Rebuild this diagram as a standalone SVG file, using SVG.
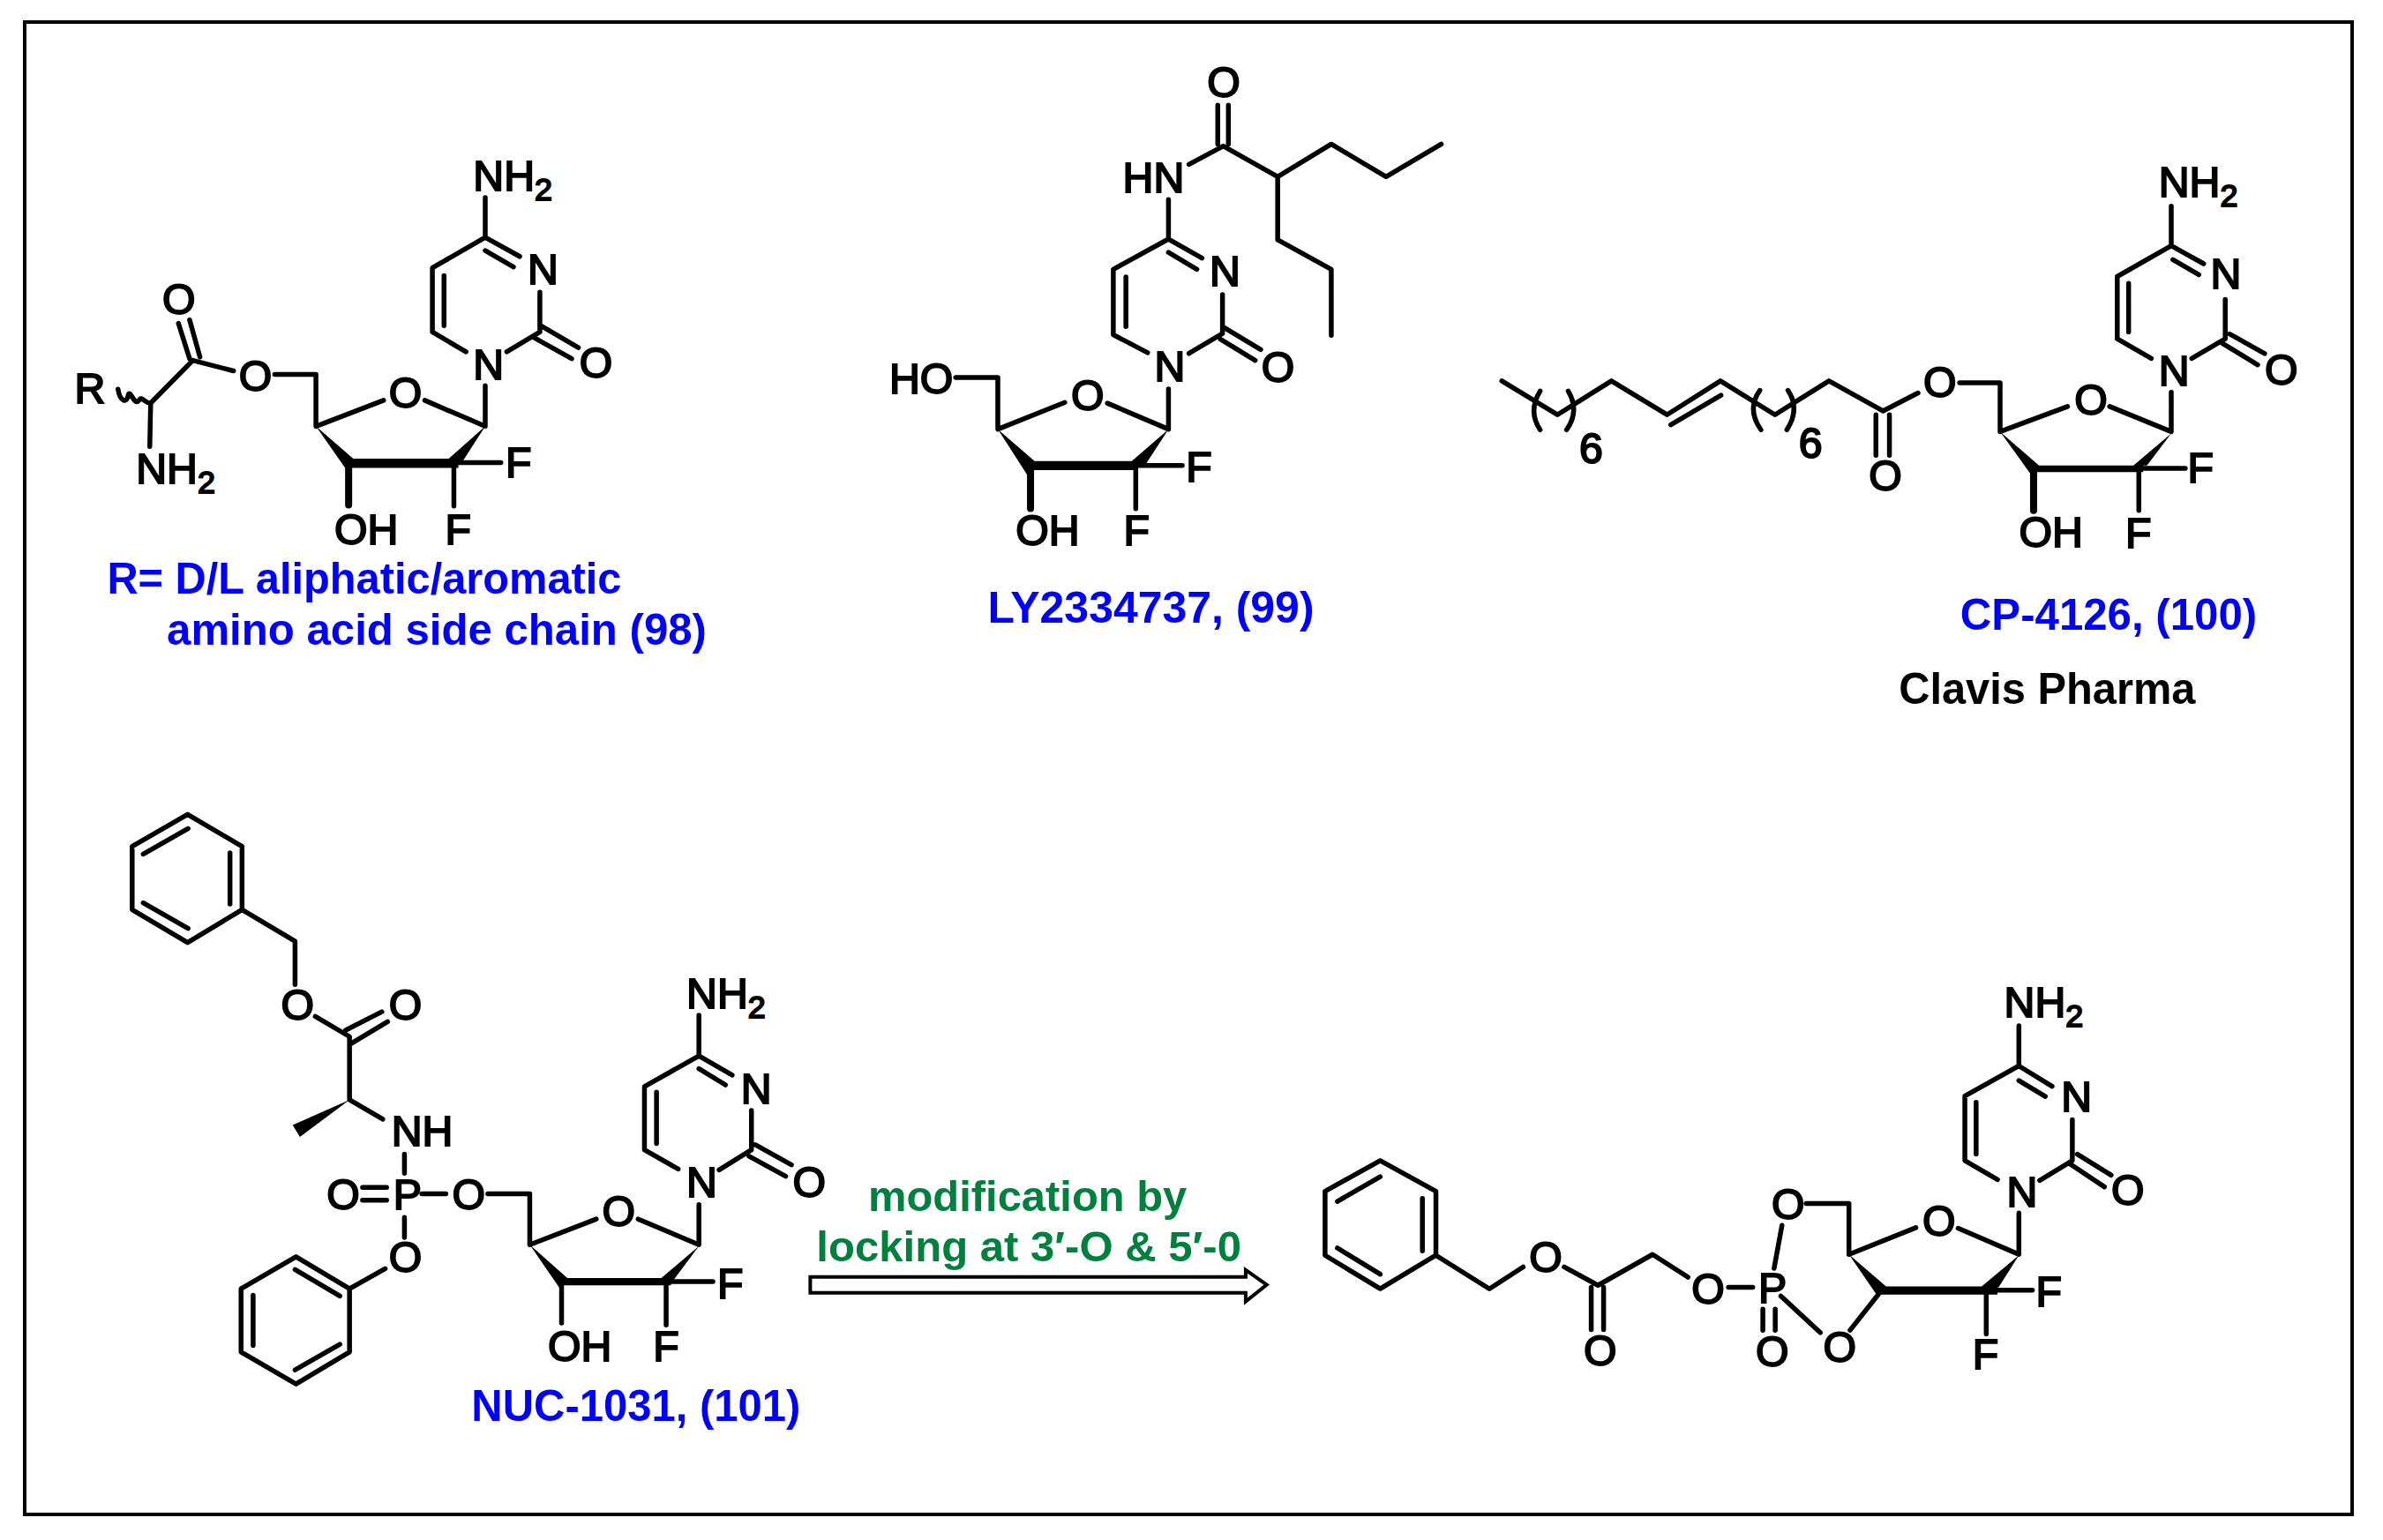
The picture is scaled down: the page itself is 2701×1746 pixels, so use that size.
<svg xmlns="http://www.w3.org/2000/svg" width="2701" height="1746" viewBox="0 0 2701 1746">
<style>
.b{fill:none;stroke:#000;stroke-width:5.5;stroke-linecap:round;stroke-linejoin:round;vector-effect:non-scaling-stroke}
.t{fill:none;stroke:#000;stroke-width:8;stroke-linecap:round;vector-effect:non-scaling-stroke}
.w{fill:#000;stroke:none}
text{font-family:"Liberation Sans",Arial,sans-serif}
.a{font-size:48.5px;fill:#000;stroke:#000;stroke-width:2}
.s{font-size:36px}
.l{font-size:50px;font-weight:bold;fill:#0000ff}
.k{font-size:50px;font-weight:bold;fill:#000}
.g{font-size:49px;font-weight:bold;fill:#00803f}
</style>
<rect x="28" y="25" width="2638" height="1692" fill="#fff" stroke="#000" stroke-width="4"/>
<g id="diagram" transform="scale(.995)">
<g id="mol-98">
<g transform="translate(40,152) scale(.5102,.395)">
<path class="b" d="M1005,185L1005,300L1082,355M1005,338L1068,385M1005,300L887,388L887,573L962,630M913,410L913,555M1053,630L1127,573L1127,458M1127,553L1213,618M1115,590L1198,650M1005,728L1005,845L870,770M778,770L627,845L627,695L535,695M352,655L443,685M320,548L345,650M345,538L368,645M352,655L258,778L256,903M185,738C190,775 205,780 208,755C212,735 222,790 232,770C238,755 245,780 258,778M935,950L1040,950M935,950L935,1075"/>
<path class="t" d="M700,965L700,1072"/>
<path class="w" d="M627,845L712,940L695,970ZM1005,845L955,945L922,940ZM695,938H945V965H695Z"/>
</g>
<text class="a" x="539" y="217">NH<tspan class="s" dy="11">2</tspan></text>
<text class="a" x="601" y="324">N</text>
<text class="a" x="539" y="432">N</text>
<text class="a" x="660" y="430">O</text>
<text class="a" x="443" y="464">O</text>
<text class="a" x="272" y="445">O</text>
<text class="a" x="185" y="358">O</text>
<text class="a" x="85" y="459">R</text>
<text class="a" x="155" y="551">NH<tspan class="s" dy="11">2</tspan></text>
<text class="a" x="381" y="620">OH</text>
<text class="a" x="576" y="544">F</text>
<text class="a" x="507" y="620">F</text>
<text class="l" x="122" y="676" textLength="586" lengthAdjust="spacingAndGlyphs">R= D/L aliphatic/aromatic</text>
<text class="l" x="190" y="735" textLength="615" lengthAdjust="spacingAndGlyphs">amino acid side chain (98)</text>
</g>

<g id="mol-99">
<g transform="translate(984,40) scale(.449,.436)">
<path class="b" d="M898,183L898,285M925,183L925,285M825,338L912,290L1050,370L1186,285L1325,370L1465,285M1050,370L1050,535L1186,612L1186,785M773,430L773,533L858,583M773,568L845,612M773,533L633,612L633,783L720,830M665,632L665,762M825,832L910,780L910,678M915,765L1007,822M905,795L993,850M773,925L773,1030L618,962M510,960L340,1030L340,895L233,895M690,1125L808,1125M690,1125L690,1238"/>
<path class="t" d="M423,1140L423,1237"/>
<path class="w" d="M340,1030L435,1115L415,1150ZM773,1030L710,1130L678,1115ZM420,1113H695V1137H420Z"/>
</g>
<text class="a" x="1375" y="111">O</text>
<text class="a" x="1279" y="219">HN</text>
<text class="a" x="1378" y="326">N</text>
<text class="a" x="1315" y="434">N</text>
<text class="a" x="1437" y="435">O</text>
<text class="a" x="1220" y="467">O</text>
<text class="a" x="1013" y="448">HO</text>
<text class="a" x="1351" y="549">F</text>
<text class="a" x="1280" y="621">F</text>
<text class="a" x="1157" y="621">OH</text>
<text class="l" x="1125" y="710" textLength="372" lengthAdjust="spacingAndGlyphs">LY2334737, (99)</text>
</g>

<g id="mol-100">
<g transform="translate(1688,158) scale(.615,.428)">
<path class="b" d="M37,645L140,735L240,645L343,735L442,645L543,735L643,645L743,725L808,677M350,762L443,683M108,672Q85,725 108,775M160,672Q182,725 157,775M515,670Q490,720 517,775M567,670Q590,720 565,775M730,735L730,843M755,735L755,843M885,650L960,650L960,780L1085,713M1163,713L1277,780L1277,675M1217,878L1303,878M1217,878L1217,990M1277,180L1277,285L1337,333M1280,322L1328,362M1277,285L1177,367L1177,533L1240,585M1198,385L1198,515M1315,585L1377,533L1377,428M1385,520L1450,572M1372,545L1437,602"/>
<path class="t" d="M1022,888L1022,990"/>
<path class="w" d="M960,780L1032,870L1020,900ZM1277,785L1232,870L1207,870ZM1025,870H1225V888H1025Z"/>
</g>
<text class="a" x="2459" y="224">NH<tspan class="s" dy="11">2</tspan></text>
<text class="a" x="2518" y="329">N</text>
<text class="a" x="2459" y="439">N</text>
<text class="a" x="2580" y="438">O</text>
<text class="a" x="2363" y="472">O</text>
<text class="a" x="2191" y="452">O</text>
<text class="a" x="2129" y="559">O</text>
<text class="a" x="2492" y="550">F</text>
<text class="a" x="2421" y="624">F</text>
<text class="a" x="2300" y="623">OH</text>
<text class="a" x="1799" y="528">6</text>
<text class="a" x="2049" y="522">6</text>
<text class="l" x="2233" y="718" textLength="338" lengthAdjust="spacingAndGlyphs">CP-4126, (100)</text>
<text class="k" x="2163" y="802" textLength="338" lengthAdjust="spacingAndGlyphs">Clavis Pharma</text>
</g>

<g id="mol-101">
<g transform="translate(122,906) scale(.549,.487)">
<path class="b" d="M167,45L280,120L280,268L167,345L52,268L52,120ZM75,138L168,78M255,135L255,255M75,252L168,312M280,268L390,342L390,443M432,518L503,565L503,713L572,758M495,550L570,507M508,580L582,530M617,840L617,885M530,918L580,918M530,948L580,948M653,933L703,933M790,933L877,933L877,1052L1015,992M617,988L617,1035M577,1108L503,1155M503,1155L392,1080L278,1155L278,1303L392,1378L503,1303ZM483,1172L390,1110M303,1170L303,1288M390,1345L483,1285M1102,992L1228,1052L1228,958M943,1145L943,1235M1160,1138L1257,1138M1160,1138L1160,1240M1228,515L1228,610L1297,655M1228,640L1283,678M1228,610L1115,682L1115,830L1185,875M1140,695L1140,815M1270,877L1337,830L1337,738M1345,818L1420,865M1332,845L1408,892"/>
<path class="w" d="M503,713L385,772L400,800ZM877,1052L955,1130L940,1155ZM1228,1055L1175,1135L1150,1130ZM945,1130H1170V1147H945Z"/>
</g>
<text class="a" x="320" y="1162">O</text>
<text class="a" x="443" y="1162">O</text>
<text class="a" x="446" y="1306">NH</text>
<text class="a" x="372" y="1378">O</text>
<text class="a" x="448" y="1378">P</text>
<text class="a" x="515" y="1378">O</text>
<text class="a" x="443" y="1449">O</text>
<text class="a" x="686" y="1397">O</text>
<text class="a" x="782" y="1149">NH<tspan class="s" dy="11">2</tspan></text>
<text class="a" x="844" y="1257">N</text>
<text class="a" x="782" y="1364">N</text>
<text class="a" x="903" y="1364">O</text>
<text class="a" x="817" y="1479">F</text>
<text class="a" x="744" y="1551">F</text>
<text class="a" x="624" y="1551">OH</text>
<text class="l" x="537" y="1619" textLength="375" lengthAdjust="spacingAndGlyphs">NUC-1031, (101)</text>
</g>

<g id="connectors">
<path d="M923,1455H1419V1447L1443,1464L1419,1483V1473H923Z" fill="#fff" stroke="#000" stroke-width="4"/>
</g>
<g id="arrow-label">
<text class="g" x="989" y="1380" textLength="363" lengthAdjust="spacingAndGlyphs">modification by</text>
<text class="g" x="930" y="1437" textLength="484" lengthAdjust="spacingAndGlyphs">locking at 3′-O &amp; 5′-0</text>
</g>

<g id="mol-locked">
<g transform="translate(1487,1110) scale(.641,.332)">
<path class="b" d="M133,640L232,745L232,965L133,1080L35,965L35,745ZM57,780L133,695M208,770L208,950M57,940L133,1030M232,965L327,1080L387,1005M460,1005L520,1068L617,962L680,1040M508,1075L508,1220M530,1075L530,1220M752,1075L795,1075M833,1010L847,862M890,787L966,787L966,962L1085,870M1160,872L1268,962L1268,820M1210,1085L1292,1085M1210,1085L1210,1235M1018,1100L968,1222M845,1105L915,1230M813,1150L813,1222M835,1150L835,1222M1268,177L1268,315L1327,385M1268,365L1315,420M1268,315L1172,418L1172,640L1230,705M1192,440L1192,618M1305,708L1363,640L1363,500M1372,618L1432,690M1358,650L1420,730"/>
<path class="w" d="M966,962L1032,1072L1015,1100ZM1268,965L1232,1075L1200,1075ZM1020,1072H1230V1100H1020Z"/>
</g>
<text class="a" x="2283" y="1159">NH<tspan class="s" dy="11">2</tspan></text>
<text class="a" x="2348" y="1266">N</text>
<text class="a" x="2286" y="1375">N</text>
<text class="a" x="2405" y="1373">O</text>
<text class="a" x="2190" y="1408">O</text>
<text class="a" x="2018" y="1389">O</text>
<text class="a" x="1742" y="1449">O</text>
<text class="a" x="1927" y="1485">O</text>
<text class="a" x="2003" y="1484">P</text>
<text class="a" x="2000" y="1557">O</text>
<text class="a" x="2077" y="1552">O</text>
<text class="a" x="1804" y="1556">O</text>
<text class="a" x="2319" y="1488">F</text>
<text class="a" x="2247" y="1560">F</text>
</g>
</g>
</svg>
